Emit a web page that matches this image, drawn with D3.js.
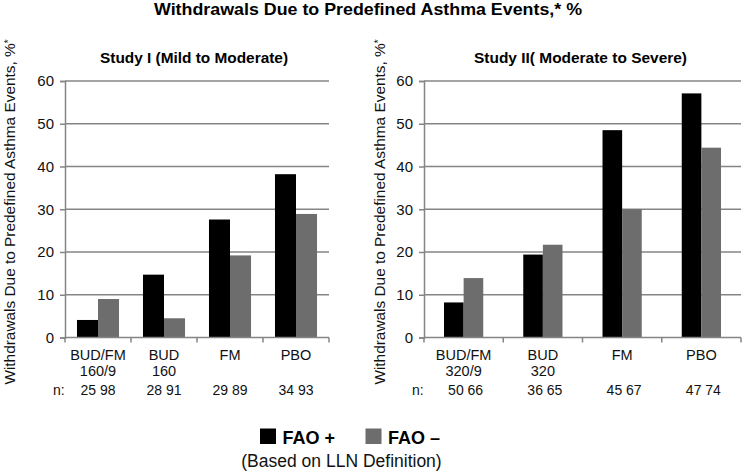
<!DOCTYPE html>
<html><head><meta charset="utf-8">
<script src="https://cdn.jsdelivr.net/npm/d3@7"></script>
<style>body{margin:0;background:#fff}svg{display:block;font-family:"Liberation Sans",Arial,sans-serif}</style>
</head><body>
<svg id="c" width="742" height="472"></svg>
<script>
const title = "Withdrawals Due to Predefined Asthma Events,* %";
const yLabel = "Withdrawals Due to Predefined Asthma Events, %";
const yTicks = [0, 10, 20, 30, 40, 50, 60];
const seriesNames = ["FAO +", "FAO \u2013"];
const seriesColors = ["#000000", "#6d6d6d"];
const legendNote = "(Based on LLN Definition)";

const study1Title = "Study I (Mild to Moderate)";
const study1Cats = [["BUD/FM", "160/9"], ["BUD", "160"], ["FM"], ["PBO"]];
const study1FaoPos = [4.1, 14.7, 27.6, 38.2];
const study1FaoNeg = [9.0, 4.5, 19.2, 28.9];
const study1N = ["25 98", "28 91", "29 89", "34 93"];

const study2Title = "Study II( Moderate to Severe)";
const study2Cats = [["BUD/FM", "320/9"], ["BUD", "320"], ["FM"], ["PBO"]];
const study2FaoPos = [8.2, 19.4, 48.5, 57.1];
const study2FaoNeg = [13.9, 21.7, 30.0, 44.4];
const study2N = ["50 66", "36 65", "45 67", "47 74"];

const svg = d3.select("#c");
const gridColor = "#858585";
const textColor = "#111";

svg.append("text").attr("x", 368).attr("y", 15).attr("text-anchor", "middle")
  .attr("font-weight", "bold").attr("font-size", 16.5)
  .attr("textLength", 428).attr("lengthAdjust", "spacingAndGlyphs").text(title);

function panel(opt) {
  const x0 = opt.left, x1 = opt.right, yTop = 81, yBot = 337.5;
  const y = d3.scaleLinear().domain([0, 60]).range([yBot, yTop]);
  const cats = opt.cats.map((c, i) => i);
  const xb = d3.scaleBand().domain(cats).range([x0, x1]).paddingInner(0).paddingOuter(0);
  const xs = d3.scaleBand().domain([0, 1]).range([0, xb.bandwidth()]).paddingOuter(opt.pad).paddingInner(0);
  const g = svg.append("g");

  // gridlines
  g.selectAll(".grid").data(yTicks.filter(t => t > 0)).join("line")
    .attr("x1", x0).attr("x2", x1).attr("y1", d => y(d)).attr("y2", d => y(d))
    .attr("stroke", gridColor).attr("stroke-width", 1.5);

  // y axis
  const ya = g.append("g").attr("transform", `translate(${x0},0)`)
    .call(d3.axisLeft(y).tickValues(yTicks).tickSize(5).tickPadding(6));
  ya.select(".domain").attr("stroke", gridColor).attr("stroke-width", 1.5);
  ya.selectAll(".tick line").attr("stroke", gridColor).attr("stroke-width", 1.5);
  ya.selectAll(".tick text").attr("font-size", 15).attr("fill", textColor).attr("font-family", "Liberation Sans, Arial, sans-serif");

  // bars
  const series = [opt.pos, opt.neg];
  series.forEach((vals, si) => {
    g.selectAll(".b" + si).data(vals).join("rect")
      .attr("x", (d, i) => xb(i) + xs(si)).attr("width", xs.bandwidth())
      .attr("y", d => y(d)).attr("height", d => y(0) - y(d))
      .attr("fill", seriesColors[si]);
  });

  // x axis line + ticks at band boundaries
  g.append("line").attr("x1", x0).attr("x2", x1).attr("y1", yBot).attr("y2", yBot)
    .attr("stroke", gridColor).attr("stroke-width", 1.5);
  const bounds = cats.map(i => xb(i)).concat([x1]);
  g.selectAll(".xt").data(bounds).join("line")
    .attr("x1", d => d).attr("x2", d => d).attr("y1", yBot).attr("y2", yBot + 5)
    .attr("stroke", gridColor).attr("stroke-width", 1.5);

  // category labels (one text per line)
  opt.cats.forEach((lines, i) => {
    lines.forEach((ln, li) => {
      g.append("text").attr("text-anchor", "middle").attr("font-size", 14.5).attr("fill", textColor)
        .attr("x", xb(i) + xb.bandwidth() / 2).attr("y", 360 + li * 15.5).text(ln);
    });
  });
  // n row
  g.append("text").attr("x", x0 - 12).attr("y", 395).attr("font-size", 14).attr("fill", textColor).text("n:");
  g.selectAll(".nv").data(opt.n).join("text")
    .attr("x", (d, i) => xb(i) + xb.bandwidth() / 2 + opt.nShift).attr("y", 395)
    .attr("text-anchor", "middle").attr("font-size", 14).attr("fill", textColor).text(d => d);

  // subtitle
  g.append("text").attr("x", opt.subX).attr("y", 63).attr("text-anchor", "middle")
    .attr("font-weight", "bold").attr("font-size", 15.5)
    .attr("textLength", opt.subW).attr("lengthAdjust", "spacingAndGlyphs").text(opt.title);

  // y label
  const yl = g.append("text").attr("transform", `translate(${opt.ylX},${opt.ylY}) rotate(-90)`)
    .attr("text-anchor", "middle").attr("font-size", 15.4).attr("fill", textColor);
  yl.append("tspan").text(yLabel);
  yl.append("tspan").attr("dy", -3).attr("font-size", 10).text("*");
}

panel({left: 65, right: 329, cats: study1Cats, pos: study1FaoPos, neg: study1FaoNeg, n: study1N,
  pad: 0.57, title: study1Title, subX: 194, subW: 188, ylX: 14.5, ylY: 212, nShift: 0});
panel({left: 424, right: 741, cats: study2Cats, pos: study2FaoPos, neg: study2FaoNeg, n: study2N,
  pad: 1.02, title: study2Title, subX: 580.5, subW: 213, ylX: 385, ylY: 212, nShift: 2});

// legend
const lg = svg.append("g");
const lx = [260, 365.5];
seriesNames.forEach((s, i) => {
  lg.append("rect").attr("x", lx[i]).attr("y", 428.5).attr("width", 16).attr("height", 15.5).attr("fill", seriesColors[i]);
  lg.append("text").attr("x", lx[i] + 22.5).attr("y", 443.5).attr("font-weight", "bold").attr("font-size", 18).text(s);
});
lg.append("text").attr("x", 341.5).attr("y", 467).attr("text-anchor", "middle").attr("font-size", 17.5).attr("fill", textColor).text(legendNote);
</script>
</body></html>
